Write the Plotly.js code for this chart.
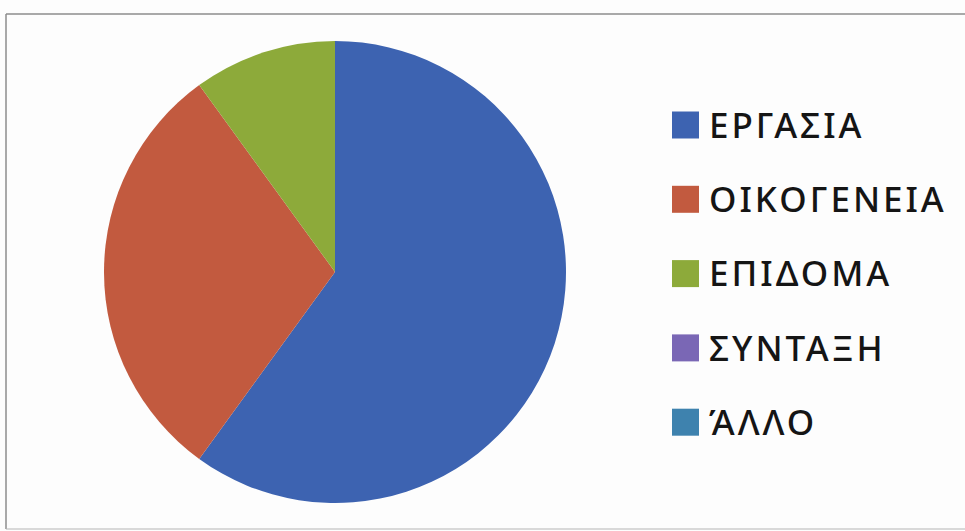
<!DOCTYPE html>
<html>
<head>
<meta charset="utf-8">
<script src="https://cdn.plot.ly/plotly-3.0.1.min.js"></script>
<style>
html,body{margin:0;padding:0;background:#fdfdfd;}
#chart{width:965px;height:531px;}
#chart .textpoint text{letter-spacing:3px;}
</style>
</head>
<body>
<div id="chart"></div>
<script>
const labels = ["ΕΡΓΑΣΙΑ", "ΟΙΚΟΓΕΝΕΙΑ", "ΕΠΙΔΟΜΑ", "ΣΥΝΤΑΞΗ", "ΆΛΛΟ"];
const values = [60, 30, 10, 0, 0];
const colors = ["#3D63B1", "#C25A3F", "#8DAA3A", "#7A67B5", "#3E82AE"];

const W = 965, H = 531;
const px = x => x / W;
const py = y => 1 - y / H;

// legend rows laid out in pixel space of a hidden overlay axis
const rowY = labels.map((_, i) => 125 + i * 74.3);

const frame = {xref: "paper", yref: "paper", type: "line", line: {color: "#8c8c8c", width: 1.5}};
const shapes = [
  Object.assign({}, frame, {x0: px(6), x1: px(965), y0: py(14), y1: py(14)}),
  Object.assign({}, frame, {x0: px(6), x1: px(6), y0: py(14), y1: py(529)}),
  Object.assign({}, frame, {x0: px(6), x1: px(965), y0: py(529), y1: py(529), line: {color: "#b5b5b5", width: 1}})
];

const data = [{
  type: "pie",
  labels: labels,
  values: values,
  sort: false,
  direction: "clockwise",
  rotation: 0,
  textinfo: "none",
  hoverinfo: "none",
  marker: {colors: colors, line: {width: 0}},
  domain: {x: [px(104), px(566)], y: [py(503), py(41)]},
  showlegend: false
}, {
  type: "scatter", mode: "markers",
  x: labels.map(() => 685.5), y: rowY,
  marker: {symbol: "square", size: 27, color: colors, line: {width: 0}},
  hoverinfo: "none", showlegend: false, cliponaxis: false
}, {
  type: "scatter", mode: "text",
  x: labels.map(() => 709), y: rowY.map(v => v + 4),
  text: labels, textposition: "middle right",
  textfont: {family: "Noto Sans", size: 35, weight: 500, color: "#151515"},
  hoverinfo: "none", showlegend: false, cliponaxis: false
}];

const layout = {
  width: W, height: H,
  margin: {l: 0, r: 0, t: 0, b: 0},
  paper_bgcolor: "#fdfdfd",
  plot_bgcolor: "rgba(0,0,0,0)",
  showlegend: false,
  xaxis: {range: [0, W], visible: false, fixedrange: true},
  yaxis: {range: [H, 0], visible: false, fixedrange: true},
  shapes: shapes
};

Plotly.newPlot("chart", data, layout, {displayModeBar: false, staticPlot: true});
</script>
</body>
</html>
